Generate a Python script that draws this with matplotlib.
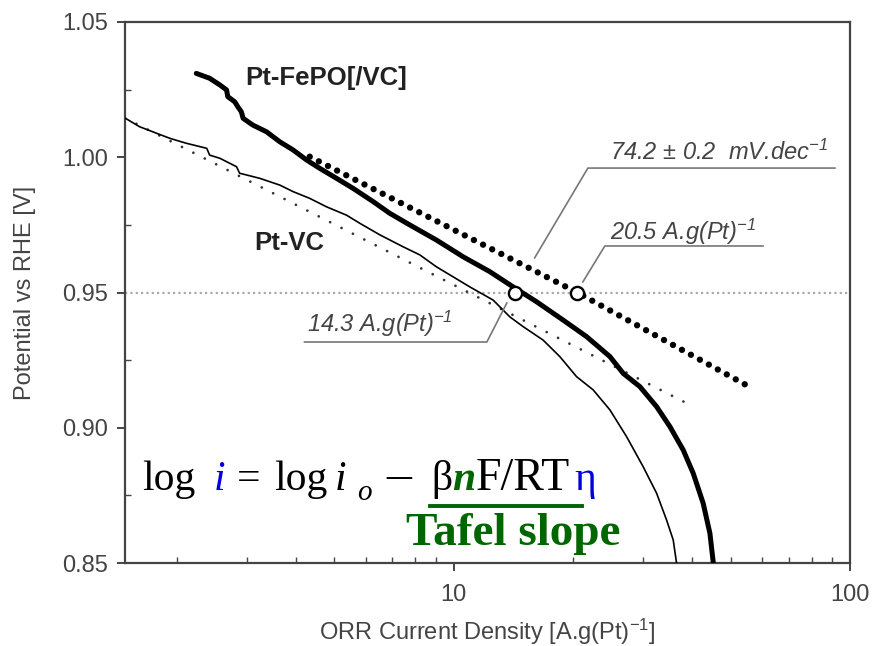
import matplotlib
matplotlib.use('Agg')
import matplotlib.pyplot as plt
from matplotlib.ticker import FixedLocator, LogLocator, MultipleLocator, NullFormatter
from matplotlib.lines import Line2D

# ---------------- data ----------------
ptfepo_x = [2.24, 2.42, 2.57, 2.67, 2.69, 2.80, 2.85, 2.91, 2.94, 3.11, 3.37, 3.64,
            3.93, 4.25, 4.59, 5.06, 5.57, 6.26, 6.89, 7.74, 9.04, 10.56, 12.33, 14.11,
            16.17, 18.88, 21.63, 24.78, 26.77, 29.49, 32.5, 35.12, 37.93, 40.2, 42.6,
            44.3, 45.2]
ptfepo_y = [1.0310, 1.0292, 1.0267, 1.0249, 1.0224, 1.0205, 1.0187, 1.0168, 1.0144,
            1.0119, 1.0094, 1.0057, 1.0027, 0.9990, 0.9959, 0.9922, 0.9885, 0.9836,
            0.9793, 0.9750, 0.9694, 0.9632, 0.9577, 0.9521, 0.9466, 0.9398, 0.9337,
            0.9263, 0.9201, 0.9152, 0.9078, 0.9004, 0.8918, 0.8832, 0.8721, 0.8610,
            0.8499]

ptvc_x = [1.48, 1.61, 1.74, 1.92, 2.11, 2.38, 2.42, 2.57, 2.83, 2.88, 3.24, 3.64,
          3.93, 4.33, 4.77, 5.36, 5.79, 6.51, 7.45, 8.21, 9.04, 9.96, 10.97, 12.57,
          13.85, 14.96, 16.81, 18.52, 20.41, 22.48, 24.78, 27.3, 30.06, 32.5, 34.44,
          35.8, 36.5]
ptvc_y = [1.0145, 1.0113, 1.0094, 1.0070, 1.0052, 1.0033, 1.0008, 0.9996, 0.9965,
          0.9941, 0.9922, 0.9897, 0.9873, 0.9848, 0.9817, 0.9786, 0.9756, 0.9713,
          0.9669, 0.9639, 0.9595, 0.9558, 0.9521, 0.9472, 0.9410, 0.9374, 0.9324,
          0.9263, 0.9189, 0.9140, 0.9066, 0.8967, 0.8856, 0.8758, 0.8659, 0.8585,
          0.8499]

tafel_fepo_x = [4.33, 20.5, 55.3]
tafel_fepo_y = [1.0002, 0.950, 0.9154]
tafel_vc_x = [1.48, 40.4]
tafel_vc_y = [1.0145, 0.9077]

mass_act_x = [14.3, 20.5]
mass_act_y = [0.95, 0.95]
ref_potential = 0.95

x_ticks = [10, 100]
x_ticklabels = ['10', '100']
y_ticks = [0.85, 0.90, 0.95, 1.00, 1.05]
y_ticklabels = ['0.85', '0.90', '0.95', '1.00', '1.05']

label_fepo = 'Pt-FePO[/VC]'
label_vc = 'Pt-VC'
ann_slope = '74.2 ± 0.2  mV.dec$^{-1}$'
ann_fepo = '20.5 A.g(Pt)$^{-1}$'
ann_vc = '14.3 A.g(Pt)$^{-1}$'

# ---------------- figure ----------------
W, H = 874, 646
plt.rcParams['font.family'] = ['Liberation Sans', 'DejaVu Sans']
plt.rcParams['mathtext.default'] = 'regular'

fig = plt.figure(figsize=(W / 100, H / 100), dpi=100)
ax = fig.add_axes([125 / W, 1 - 563 / H, (850 - 125) / W, (563 - 22) / H])

TXT = '#444444'
ax.set_xscale('log')
ax.set_xlim(1.48, 100)
ax.set_ylim(0.85, 1.05)

ax.axhline(ref_potential, color='#aaaaaa', lw=1.6, linestyle=(0, (1, 1.4)), zorder=1)

ax.plot(ptvc_x, ptvc_y, color='black', lw=1.2, zorder=3)
ax.plot(ptfepo_x, ptfepo_y, color='black', lw=3.6, zorder=3,
        solid_capstyle='round', solid_joinstyle='round')
ax.plot(tafel_vc_x, tafel_vc_y, color='#333333', lw=2.0, linestyle=(0, (0.001, 4.6)),
        dash_capstyle='round', zorder=2)
ax.plot(tafel_fepo_x, tafel_fepo_y, color='black', lw=4.6, linestyle=(0, (0.001, 1.6)),
        dash_capstyle='round', zorder=2)
ax.plot(mass_act_x, mass_act_y, linestyle='none', marker='o', ms=9.5, mfc='white',
        mec='black', mew=1.7, zorder=5)

# annotations with leader lines
lead = dict(color='#777777', lw=1.2, clip_on=False, zorder=4)
ax.plot([16.0, 21.8, 91.6], [0.9628, 0.9960, 0.9960], **lead)
ax.plot([21.17, 24.06, 60.3], [0.9539, 0.9672, 0.9672], **lead)
ax.plot([13.61, 12.12, 4.20], [0.9461, 0.9317, 0.9317], **lead)

ann = dict(fontsize=17, style='italic', color=TXT, ha='left', va='baseline')
ax.text(24.8, 0.9990, ann_slope, **ann)
ax.text(24.8, 0.9694, ann_fepo, **ann)
ax.text(4.26, 0.9354, ann_vc, **ann)

ax.text(2.98, 1.0293, label_fepo, fontsize=18.5, weight='bold', color='#222222',
        ha='left', va='center')
ax.text(3.145, 0.9683, label_vc, fontsize=18.5, weight='bold', color='#222222',
        ha='left', va='center')

# axes styling
for s in ax.spines.values():
    s.set_color('#444444')
    s.set_linewidth(1.6)
ax.xaxis.set_major_locator(FixedLocator(x_ticks))
ax.set_xticklabels(x_ticklabels)
ax.xaxis.set_minor_locator(LogLocator(base=10, subs=range(2, 10)))
ax.xaxis.set_minor_formatter(NullFormatter())
ax.set_yticks(y_ticks)
ax.set_yticklabels(y_ticklabels)
ax.yaxis.set_minor_locator(MultipleLocator(0.025))
ax.tick_params(which='major', direction='out', length=6, width=1.4, color='#444444',
               labelsize=17, labelcolor=TXT)
ax.tick_params(axis='x', which='major', pad=9)
ax.tick_params(axis='y', which='major', pad=6)
ax.tick_params(which='minor', direction='in', length=4, width=1.0, color='#444444')

ax.set_xlabel('ORR Current Density [A.g(Pt)$^{-1}$]', fontsize=17, color=TXT, va='center')
ax.xaxis.set_label_coords(0.5, -0.127)
ax.set_ylabel('Potential vs RHE [V]', fontsize=17, color=TXT, va='center')
ax.yaxis.set_label_coords(-0.138, 0.5)

# ---------------- equation overlay ----------------
def fx(px):
    return px / W

def fy(py):
    return 1 - py / H

SERIF = ['Liberation Serif', 'DejaVu Serif']
BLUE = '#0000dd'
GREEN = '#006600'
base = 490
# (text, target left px, baseline px, style); never overlaps the previous piece
eq = [
    ('log', 142, base, dict(color='black')),
    ('i', 214, base, dict(color=BLUE, style='italic')),
    ('=', 237, base, dict(color='black')),
    ('log', 274, base, dict(color='black')),
    ('i', 335, base, dict(color='black', style='italic')),
    ('o', 357, 500, dict(color='black', style='italic', size=21)),
    ('–', 386, base, dict(color='black', size=36)),
    ('β', 431, base, dict(color='black')),
    ('n', 447, base, dict(color=GREEN, style='italic', weight='bold')),
    ('F/RT', 476, base, dict(color='black', size=33)),
    ('η', 574, base, dict(color=BLUE)),
]
fig.canvas.draw()
renderer = fig.canvas.get_renderer()
cur = 0
for s, tx, py, kw in eq:
    kw = dict(kw)
    size = kw.pop('size', 30)
    x = max(tx, cur)
    t = fig.text(fx(x), fy(py), s, family=SERIF, fontsize=size, ha='left',
                 va='baseline', **kw)
    cur = t.get_window_extent(renderer).x1

fig.add_artist(Line2D([fx(430), fx(582)], [fy(506), fy(506)], color=GREEN, lw=2.8))
fig.text(fx(406), fy(545), 'Tafel slope', family=SERIF, fontsize=34, weight='bold',
         color=GREEN, ha='left', va='baseline')

fig.savefig('out.png', dpi=100)
